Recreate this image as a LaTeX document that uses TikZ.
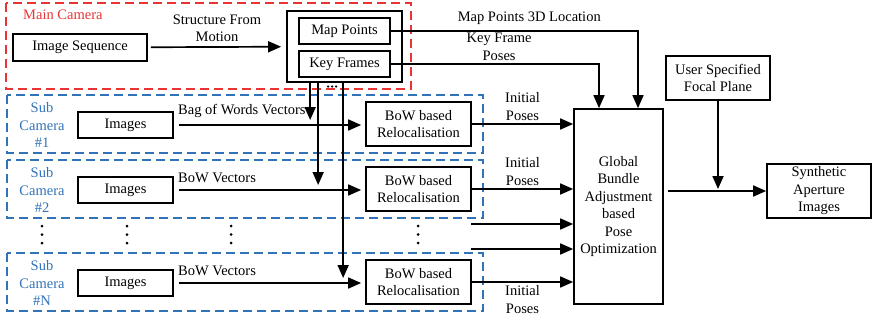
\documentclass[tikz,border=0pt]{standalone}
\usepackage{fontspec}
\setmainfont{Liberation Serif}
\usetikzlibrary{positioning,arrows.meta,calc}
\definecolor{camred}{RGB}{232,52,52}
\definecolor{camblue}{RGB}{48,115,185}

\tikzset{
  blk/.style={draw, line width=1.7pt, inner sep=0pt, align=center},
  arr/.style={line width=1.7pt, -{Triangle[length=13pt,width=11pt]}},
  redbox/.style={draw=camred, line width=1.6pt, dash pattern=on 9pt off 5pt},
  bluebox/.style={draw=camblue, line width=1.6pt, dash pattern=on 9pt off 5pt},
  lbl/.style={align=center, inner sep=0pt},
  dot/.style={circle, fill, inner sep=0pt, minimum size=3pt},
}

\begin{document}
\begin{tikzpicture}[x=1pt,y=-1pt,font=\fontsize{14.5}{17.5}\selectfont]
\useasboundingbox (0,0) rectangle (872,321);

% main camera
\draw[redbox] (6,3) rectangle (411,89);
\node[lbl, text=camred, anchor=west] (maincam) at (23,15) {Main Camera};
\node[blk, minimum width=134, minimum height=27] (seq) at (80,47.5) {Image Sequence};
\node[blk, minimum width=115, minimum height=71] (kfbox) at (344.5,46.5) {};
\node[blk, minimum width=91, minimum height=26] (mappts) at (344.5,31) {Map Points};
\node[blk, minimum width=91, minimum height=26] (keyfrm) at (344.5,64) {Key Frames};
\draw[arr, shorten <=3pt, shorten >=5pt] (seq) -- node[lbl, above=4pt] {Structure From\\Motion} (kfbox);
\foreach \x in {328,332,336}
  \node[dot, minimum size=2.5pt] at (\x,86.5) {};

% sub cameras
\foreach \n/\y/\vy/\vtxt in {1/125/11/Bag of Words Vectors, 2/190/8/BoW Vectors, N/283/8/BoW Vectors} {
  \draw[bluebox] (7,\y-30) rectangle (483,\y+28);
  \node[lbl, text=camblue] (sub\n) at (42,\y) {Sub\\Camera\\\#\n};
  \node[blk, minimum width=95, minimum height=26] (img\n) at (125.5,\y) {Images};
  \node[blk, minimum width=105, minimum height=44] (bow\n) at (418.5,\y-1) {BoW based\\Relocalisation};
  \draw[arr, shorten <=5pt, shorten >=4pt] (img\n.east) -- (img\n.east -| bow\n.west);
  \node[lbl, anchor=base west] (vec\n) at (178,\y-\vy) {\vtxt};
}
\foreach \x in {42,127,231,418}
  \foreach \d in {226,234.5,243}
    \node[dot] at (\x,\d) {};

% key frames down to the sub cameras
\coordinate (v1) at ([xshift=24pt]kfbox.south west);
\coordinate (v2) at ([xshift=32pt]kfbox.south west);
\coordinate (v3) at ([xshift=57pt]kfbox.south west);
\draw[arr, shorten >=5pt] (v1) -- (v1 |- img1.center);
\draw[arr, shorten >=5pt] (v2) -- (v2 |- img2.center);
\draw[arr, shorten >=5pt] (v3) -- (v3 |- imgN.center);

% optimisation
\node[blk, minimum width=89, minimum height=195] (global) at (618.5,206.5)
  {Global\\Bundle\\Adjustment\\based\\Pose\\Optimization};
\node[blk, minimum width=104, minimum height=44] (focal) at (718,78) {User Specified\\Focal Plane};
\node[blk, minimum width=104, minimum height=54] (synth) at (819,191) {Synthetic\\Aperture\\Images};

\coordinate (gin1) at ([xshift=19.5pt]global.north);
\coordinate (gin2) at ([xshift=-19.5pt]global.north);
\draw[arr] (mappts.east) -| node[lbl, pos=0.28, above=6pt] {Map Points 3D Location} (gin1);
\draw[arr] (keyfrm.east) -| node[lbl, pos=0.26, above=3pt] {Key Frame\\Poses} (gin2);

\draw[arr] (bow1.east) -- node[lbl, above=3pt] {Initial\\Poses} (bow1.east -| global.west);
\draw[arr] (bow2.east) -- node[lbl, above=3pt] {Initial\\Poses} (bow2.east -| global.west);
\draw[arr] (bowN.east) -- node[lbl, below=3pt] {Initial\\Poses} (bowN.east -| global.west);
\coordinate (m1) at (471,224);
\coordinate (m2) at (471,249);
\draw[arr] (m1) -- (m1 -| global.west);
\draw[arr] (m2) -- (m2 -| global.west);

\draw[arr, shorten <=4pt] (global.east |- synth.west) -- (synth.west);
\draw[arr, shorten >=2pt] (focal.south) -- (focal.south |- synth.west);

\end{tikzpicture}
\end{document}
